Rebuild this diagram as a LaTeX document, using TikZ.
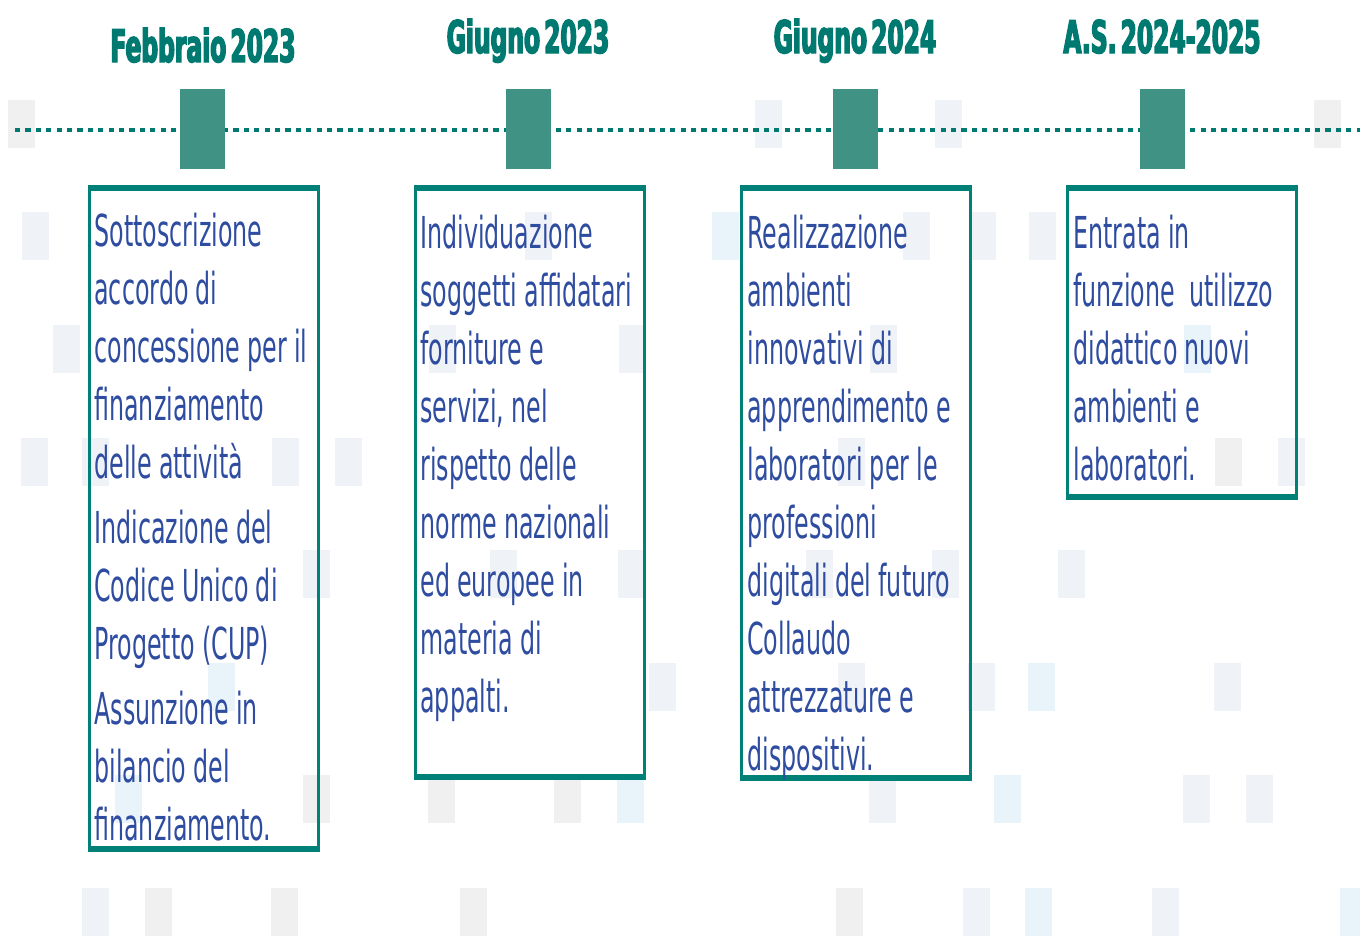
\documentclass[tikz,border=0pt]{standalone}
\usepackage{fontspec}
\usepackage{xcolor}
\usepackage{tikz}
\usetikzlibrary{positioning}

\newfontfamily\bodyfont{DejaVu Sans}[FakeStretch=0.54]
\newfontfamily\headfont{DejaVu Sans}[FakeStretch=0.52, WordSpace=0.5, BoldFeatures={FakeBold=3}]
\newcommand\phasefont{\bodyfont\fontsize{22}{29}\selectfont\spaceskip 3.6pt\relax}

\definecolor{headteal}{RGB}{0,122,112}
\definecolor{markteal}{RGB}{63,146,132}
\definecolor{boxteal}{RGB}{0,128,118}
\definecolor{textblue}{RGB}{46,76,160}
\definecolor{sqgray}{RGB}{240,240,240}
\definecolor{sqslate}{RGB}{239,242,246}
\definecolor{sqblue}{RGB}{232,243,250}

\begin{document}
\begin{tikzpicture}[
    x=0.5pt, y=-0.5pt,
    % Define specific styles to match the drawing
    date_label/.style={
        anchor=base,
        text=headteal,
        font=\headfont\bfseries\fontsize{22.5}{26}\selectfont,
        inner sep=0pt
    },
    milestone/.style={
        rectangle,
        fill=markteal,
        minimum width=22.5pt,
        minimum height=40pt,
        inner sep=0pt
    },
    timeline/.style={
        draw=headteal,
        line width=2.2pt,
        dash pattern=on 2.6pt off 2.6pt
    },
    phase_box/.style={
        rectangle,
        draw=boxteal,
        line width=1.5pt,
        anchor=north west,
        minimum width=114.5pt,
        inner sep=0pt
    },
    box_edge/.style={
        draw=boxteal,
        line width=2.6pt
    },
    phase_text/.style={
        anchor=base west,
        text=textblue,
        font=\phasefont,
        text width=130pt,
        align=flush left,
        inner sep=0pt
    }
]
    \useasboundingbox (0,0) rectangle (1360,938);

    % --- Faint background squares ---
    \foreach \sx/\sy/\sc in {
        8/100/sqgray, 755/100/sqslate, 935/100/sqslate, 1314/100/sqgray,
        22/212/sqslate, 525/212/sqslate, 712/212/sqblue, 903/212/sqslate, 969/212/sqslate, 1029/212/sqslate,
        53/325/sqslate, 429/325/sqslate, 619/325/sqslate, 870/325/sqslate, 1184/325/sqblue,
        21/438/sqslate, 82/438/sqslate, 272/438/sqslate, 335/438/sqslate, 838/438/sqslate, 1215/438/sqgray, 1278/438/sqslate,
        303/550/sqslate, 490/550/sqslate, 618/550/sqslate, 806/550/sqslate, 932/550/sqslate, 1058/550/sqslate,
        208/663/sqblue, 649/663/sqslate, 838/663/sqslate, 968/663/sqslate, 1028/663/sqblue, 1214/663/sqslate,
        115/775/sqblue, 303/775/sqgray, 428/775/sqgray, 554/775/sqgray, 617/775/sqblue, 869/775/sqslate, 994/775/sqblue, 1183/775/sqslate, 1246/775/sqslate,
        82/888/sqslate, 145/888/sqgray, 271/888/sqgray, 460/888/sqgray, 836/888/sqgray, 963/888/sqslate, 1025/888/sqblue, 1152/888/sqslate, 1340/888/sqblue}
        \fill[\sc] (\sx,\sy) rectangle ++(27,48);

    % --- Timeline ---
    \coordinate (lstart) at (15,130);
    \coordinate (lend) at (1360,130);
    \draw[timeline] (lstart) -- (lend);

    % --- Milestones ---
    \node[milestone] (m1) at (202.5,129) {};
    \node[milestone] (m2) at (528,129) {};
    \node[milestone] (m3) at (855,129) {};
    \node[milestone] (m4) at (1162.5,129) {};

    % --- Dates ---
    \node[date_label] (d1) at (203,62) {Febbraio 2023};
    \node[date_label] (d2) at (528,53) {Giugno 2023};
    \node[date_label] (d3) at (855,53) {Giugno 2024};
    \node[date_label] (d4) at (1162,53) {A.S. 2024-2025};

    % --- Phase boxes ---
    \node[phase_box, minimum height=329pt] (b1) at (88,188) {};
    \node[phase_box, minimum height=293pt] (b2) at (414,188) {};
    \node[phase_box, minimum height=293.5pt] (b3) at (740,188) {};
    \node[phase_box, minimum height=153pt] (b4) at (1066,188) {};
    \foreach \b in {b1,b2,b3,b4} {
        \draw[box_edge] (\b.north west) -- (\b.north east);
        \draw[box_edge] (\b.south west) -- (\b.south east);
    }

    % --- Phase texts ---
    \node[phase_text] (t1) at ([shift={(6,58)}]b1.north west)
        {Sottoscrizione\\ accordo di\\ concessione per il\\ finanziamento\\ delle attività\\[3.5pt]
         Indicazione del\\ Codice Unico di\\ Progetto (CUP)\\[3.5pt]
         Assunzione in\\ bilancio del\\ finanziamento.};
    \node[phase_text] (t2) at ([shift={(6,60)}]b2.north west)
        {Individuazione\\ soggetti affidatari\\ forniture e\\ servizi, nel\\ rispetto delle\\ norme nazionali\\ ed europee in\\ materia di\\ appalti.};
    \node[phase_text] (t3) at ([shift={(7,60)}]b3.north west)
        {Realizzazione\\ ambienti\\ innovativi di\\ apprendimento e\\ laboratori per le\\ professioni\\ digitali del futuro\\ Collaudo\\ attrezzature e\\ dispositivi.};
    \node[phase_text] (t4) at ([shift={(7,60)}]b4.north west)
        {Entrata in\\ funzione~ utilizzo\\ didattico nuovi\\ ambienti e\\ laboratori.};

\end{tikzpicture}
\end{document}
